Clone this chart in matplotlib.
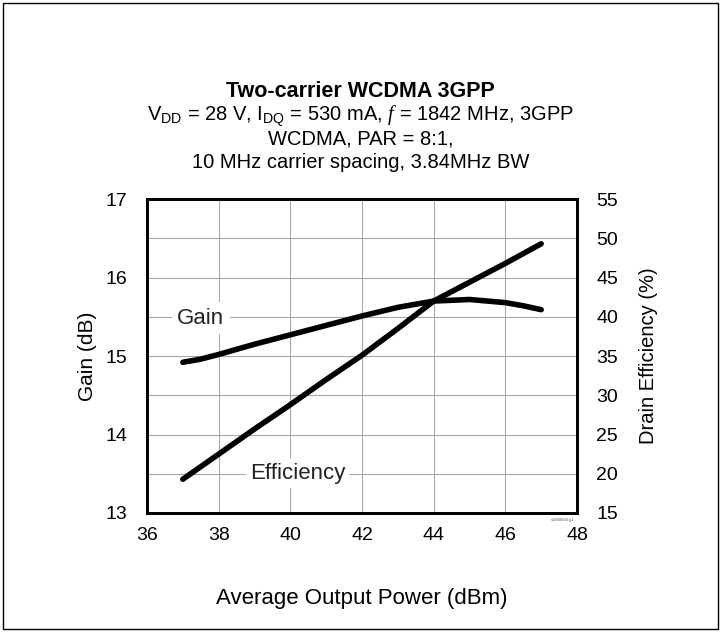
import matplotlib
matplotlib.use("Agg")
import matplotlib.pyplot as plt
from matplotlib.patches import Rectangle

plt.rcParams['font.family'] = ['Liberation Sans', 'DejaVu Sans']
plt.rcParams['mathtext.fontset'] = 'custom'
plt.rcParams['mathtext.rm'] = 'Liberation Sans'
plt.rcParams['mathtext.it'] = 'Liberation Serif:italic'

# Data
pout_gain = [37, 37.5, 38, 39, 40, 41, 42, 43, 44, 45, 46, 46.5, 47]
gain = [14.92, 14.96, 15.02, 15.15, 15.27, 15.39, 15.51, 15.62, 15.70, 15.72, 15.68, 15.64, 15.59]
pout_eff = [37, 38, 39, 40, 41, 42, 43, 44, 45, 46, 47]
efficiency = [19.3, 22.5, 25.7, 28.8, 32.0, 35.1, 38.5, 42.0, 44.4, 46.8, 49.3]

x_ticks = [36, 38, 40, 42, 44, 46, 48]
gain_ticks = [13, 14, 15, 16, 17]
eff_ticks = [15, 20, 25, 30, 35, 40, 45, 50, 55]
gain_grid = [13.5, 14, 14.5, 15, 15.5, 16, 16.5]

fig = plt.figure(figsize=(7.21, 6.32), dpi=100)
fig.patches.append(Rectangle((0.004, 0.004), 0.992, 0.992, transform=fig.transFigure,
                             fill=False, edgecolor='black', linewidth=1.0))

ax = fig.add_axes([0.2039, 0.1883, 0.5964, 0.4968])
ax2 = ax.twinx()

ax.set_xlim(36, 48)
ax.set_ylim(13, 17)
ax2.set_ylim(15, 55)

# grid lines sit on the bottom axes so everything else covers them
for xv in x_ticks[1:-1]:
    ax.axvline(xv, color='#a8a8a8', linewidth=0.8, zorder=1)
for gv in gain_grid:
    ax.axhline(gv, color='#a8a8a8', linewidth=0.8, zorder=1)

ax.plot(pout_gain, gain, color='black', linewidth=4.0, solid_capstyle='round',
        solid_joinstyle='round', zorder=5)
ax2.plot(pout_eff, efficiency, color='black', linewidth=4.0, solid_capstyle='round',
         solid_joinstyle='round', zorder=5)

# labels on the top axes (eff scale) so their white boxes hide the grid
ax2.text(37.5, 39.8, 'Gain', fontsize=16, color='#222222', ha='center', va='center',
         bbox=dict(facecolor='white', edgecolor='none', pad=4), zorder=6)
ax2.text(40.2, 20.0, 'Efficiency', fontsize=16, color='#222222', ha='center', va='center',
         bbox=dict(facecolor='white', edgecolor='none', pad=3), zorder=6)

ax.set_xticks(x_ticks)
ax.set_yticks(gain_ticks)
ax2.set_yticks(eff_ticks)
for a in (ax, ax2):
    a.tick_params(length=0, labelsize=14, pad=14)
    a.tick_params(axis='x', pad=10)
    for s in a.spines.values():
        s.set_linewidth(2.0)

ax.set_xlabel('Average Output Power (dBm)', fontsize=16, labelpad=32)
ax.set_ylabel('Gain (dB)', fontsize=15, labelpad=6)
ax2.set_ylabel('Drain Efficiency (%)', fontsize=14.5, labelpad=15)

fig.text(0.5, 0.855, 'Two-carrier WCDMA 3GPP', ha='center', va='center',
         fontsize=15.5, fontweight='bold')
fig.text(0.5, 0.816, r'V$_{\mathrm{DD}}$ = 28 V, I$_{\mathrm{DQ}}$ = 530 mA, $f$ = 1842 MHz, 3GPP',
         ha='center', va='center', fontsize=14.5)
fig.text(0.5, 0.780, 'WCDMA, PAR = 8:1,', ha='center', va='center', fontsize=14.5)
fig.text(0.5, 0.743, '10 MHz carrier spacing, 3.84MHz BW', ha='center', va='center', fontsize=14.5)
fig.text(0.797, 0.177, 's1800006.g1', ha='right', va='center', fontsize=3, color='#555555')

fig.savefig('out.png', dpi=100)
